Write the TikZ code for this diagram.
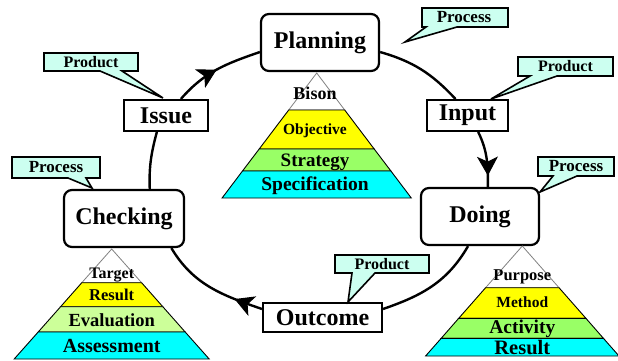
\documentclass[tikz,border=0pt]{standalone}
\usepackage{fontspec}
\setmainfont{Liberation Serif}
\usetikzlibrary{arrows.meta,decorations.markings}
\definecolor{callfill}{RGB}{204,255,240}
\definecolor{pyel}{RGB}{255,255,0}
\definecolor{pgreen}{RGB}{153,255,102}
\definecolor{plgreen}{RGB}{204,255,153}
\definecolor{pcyan}{RGB}{0,255,255}
\tikzset{
  bigbox/.style={draw, line width=2.2pt, fill=white, rounded corners=8pt, inner sep=0pt,
    font=\fontsize{24}{28}\selectfont\bfseries},
  smallbox/.style={draw, line width=2pt, fill=white, inner sep=0pt,
    font=\fontsize{24}{28}\selectfont\bfseries},
  call/.style={draw, line width=1.6pt, fill=callfill, line join=miter},
  calltext/.style={font=\fontsize{#1}{#1}\selectfont\bfseries, inner sep=0pt},
  ptext/.style={font=\fontsize{#1}{#1}\selectfont\bfseries, inner sep=0pt},
  link/.style={line width=2.4pt},
  arrowmark/.style={postaction=decorate, decoration={markings,
    mark=at position #1 with {\arrow[line width=1pt]{Stealth[length=19pt,width=21pt,inset=5pt]}}}},
  wband/.style={draw=gray, line width=0.8pt, fill=white},
  band/.style={draw=black, line width=0.9pt, fill=#1},
}
\begin{document}
\begin{tikzpicture}[x=1pt,y=1pt]
\useasboundingbox (0,0) rectangle (618,360);

% main stages
\node[bigbox, minimum width=118pt, minimum height=57pt] (planning) at (320,317.5) {Planning};
\node[smallbox, minimum width=81pt, minimum height=31pt] (input) at (467.5,244.5) {Input};
\node[bigbox, minimum width=118pt, minimum height=57pt] (doing) at (480,143.5) {Doing};
\node[smallbox, minimum width=119pt, minimum height=29pt] (outcome) at (322.5,42.5) {Outcome};
\node[bigbox, minimum width=120pt, minimum height=57pt] (checking) at (124,141.5) {Checking};
\node[smallbox, minimum width=84pt, minimum height=31pt] (issue) at (166,244.5) {Issue};

% cycle connectors
\draw[link] (planning.-9) to[out=-16,in=133] (input.126);
\draw[link, arrowmark=0.8] (input.-57) to[out=-64,in=90] (doing.75);
\draw[link] (doing.248) to[out=240,in=19] (outcome.8);
\draw[link, arrowmark=0.26] (outcome.172) to[out=161,in=-59] (checking.-32);
\draw[link] (checking.49) to[out=92,in=-105] (issue.-119);
\draw[link, arrowmark=0.5] (issue.48) to[out=49,in=199] (planning.189);

% callouts
\draw[call] (44,307) -- (138,307) -- (138,289) -- (122,289) -- (163,262) -- (100,289) -- (44,289) -- cycle;
\node[calltext=16] (c1) at (91,298) {Product};
\draw[call] (422,352) -- (508,352) -- (508,333) -- (457,333) -- (405,318) -- (426,333) -- (422,333) -- cycle;
\node[calltext=17] (c2) at (464,342.5) {Process};
\draw[call] (518,303) -- (613,303) -- (613,284) -- (557,284) -- (491,261) -- (530,284) -- (518,284) -- cycle;
\node[calltext=16] (c3) at (565.5,293.5) {Product};
\draw[call] (538,203) -- (614,203) -- (614,184) -- (577,184) -- (540,168) -- (553,184) -- (538,184) -- cycle;
\node[calltext=17] (c4) at (576,193.5) {Process};
\draw[call] (335,105) -- (429,105) -- (429,87) -- (375,87) -- (348,58) -- (352,87) -- (335,87) -- cycle;
\node[calltext=16] (c5) at (382,96) {Product};
\draw[call] (12,203) -- (100,203) -- (100,182) -- (86,182) -- (92,172) -- (68,182) -- (12,182) -- cycle;
\node[calltext=17] (c6) at (56,192.5) {Process};

% planning pyramid
\draw[wband] (316.7,287) -- (344.7,250) -- (288.7,250) -- cycle;
\draw[band=pyel] (288.7,250) -- (344.7,250) -- (374.2,211) -- (259.2,211) -- cycle;
\draw[band=pgreen] (259.2,211) -- (374.2,211) -- (390.9,189) -- (242.5,189) -- cycle;
\draw[band=pcyan] (242.5,189) -- (390.9,189) -- (411.3,162) -- (222.1,162) -- cycle;
\node[ptext=18] (pa) at (315,267) {Bison};
\node[ptext=15.5] (pb) at (315,229) {Objective};
\node[ptext=19] (pc) at (315,198) {Strategy};
\node[ptext=19.5] (pd) at (315,174) {Specification};

% checking pyramid
\draw[wband] (111.7,111) -- (141.6,77.3) -- (81.8,77.3) -- cycle;
\draw[band=pyel] (81.8,77.3) -- (141.6,77.3) -- (162.8,53.3) -- (60.6,53.3) -- cycle;
\draw[band=plgreen] (60.6,53.3) -- (162.8,53.3) -- (185.2,28) -- (38.2,28) -- cycle;
\draw[band=pcyan] (38.2,28) -- (185.2,28) -- (209.2,1) -- (14.2,1) -- cycle;
\node[ptext=16] (ca) at (111.7,85) {Target};
\node[ptext=16.5] (cb) at (111.7,65) {Result};
\node[ptext=18.5] (cc) at (111.7,40) {Evaluation};
\node[ptext=20] (cd) at (111.7,14.5) {Assessment};

% doing pyramid
\draw[wband] (522.3,114) -- (559,72.3) -- (485.6,72.3) -- cycle;
\draw[band=pyel] (485.6,72.3) -- (559,72.3) -- (585.9,41.7) -- (458.7,41.7) -- cycle;
\draw[band=pgreen] (458.7,41.7) -- (585.9,41.7) -- (603.4,21.7) -- (441.2,21.7) -- cycle;
\draw[band=pcyan] (441.2,21.7) -- (603.4,21.7) -- (619,4) -- (425.6,4) -- cycle;
\node[ptext=16.5] (da) at (522.3,82.7) {Purpose};
\node[ptext=15.5] (db) at (522.3,58) {Method};
\node[ptext=19.5] (dc) at (522.3,31.5) {Activity};
\node[ptext=20.5] (dd) at (522.3,12.5) {Result};
\end{tikzpicture}
\end{document}
